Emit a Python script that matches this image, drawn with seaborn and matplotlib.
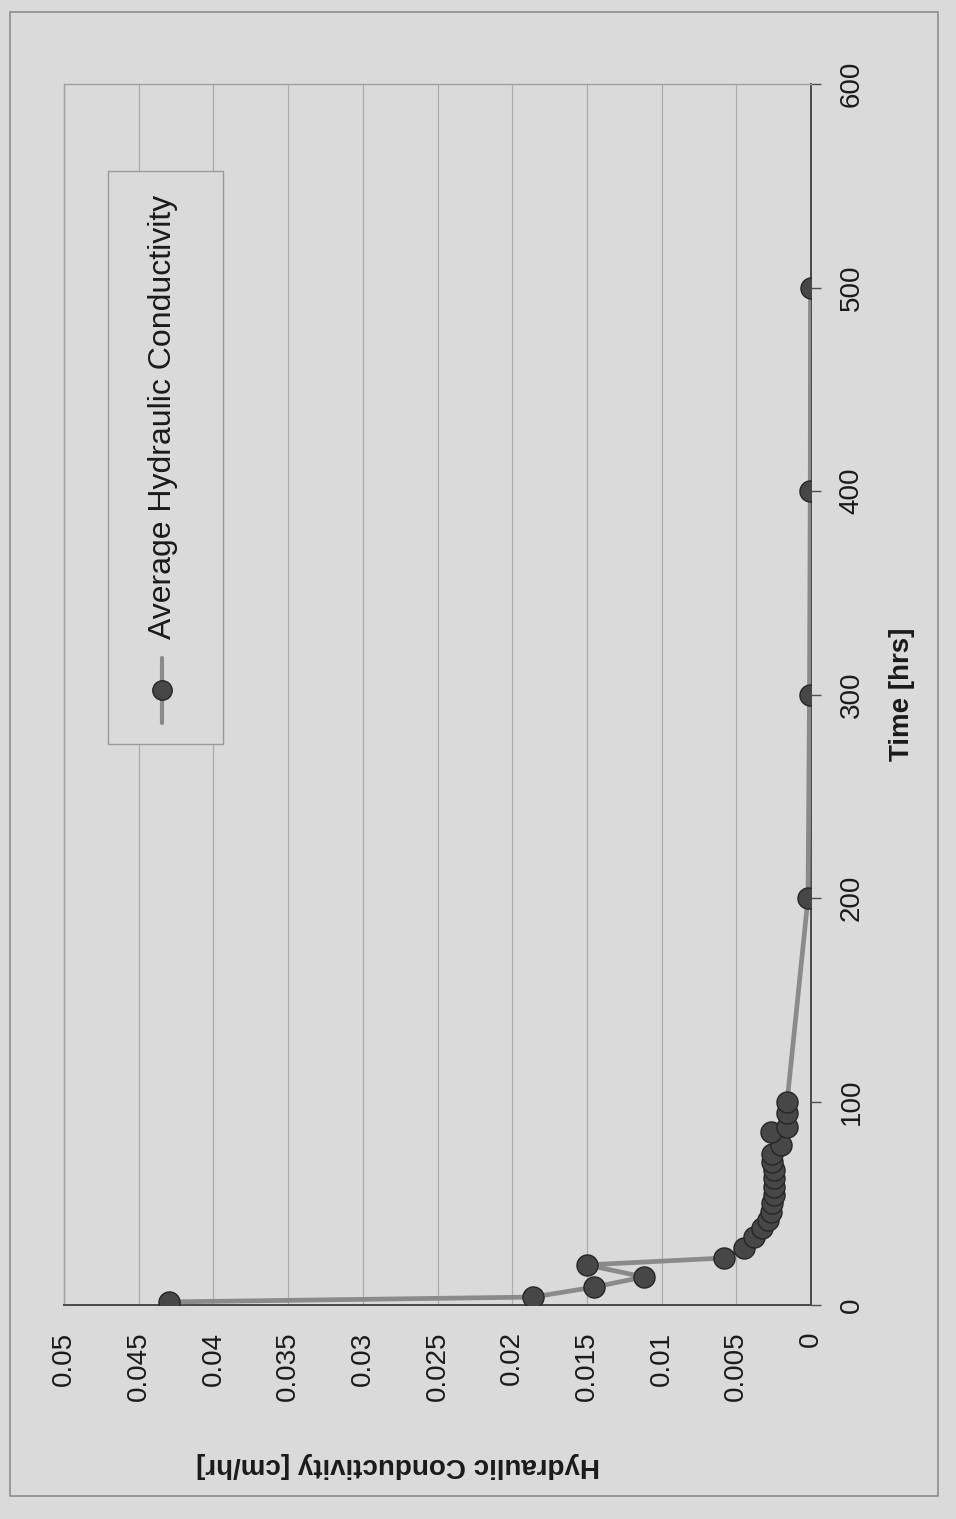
import numpy as np
import pandas as pd
import matplotlib
matplotlib.use("Agg")
import matplotlib.pyplot as plt
import seaborn as sns
from matplotlib.patches import Rectangle
from matplotlib.lines import Line2D

# ---- data (time in hours, conductivity in cm/hr) ----
time_hrs = [1.5, 3.9, 8.8, 13.8, 19.7, 23.1, 28.0, 33.4, 37.8, 41.8, 45.7, 50.1,
            54.0, 58.0, 62.4, 66.3, 70.3, 74.0, 78.6, 85.0, 87.5, 94.3, 99.8,
            200, 300, 400, 500]
conductivity = [0.0430, 0.0186, 0.0145, 0.0112, 0.0150, 0.0058, 0.0045, 0.0038,
                0.0033, 0.0029, 0.0027, 0.0026, 0.0025, 0.0025, 0.0025, 0.0025,
                0.0026, 0.0026, 0.0020, 0.0027, 0.0016, 0.0016, 0.0016,
                0.0002, 0.0001, 0.00005, 0.00003]
k_ticks = [0, 0.005, 0.01, 0.015, 0.02, 0.025, 0.03, 0.035, 0.04, 0.045, 0.05]
k_tick_labels = ["0", "0.005", "0.01", "0.015", "0.02", "0.025", "0.03",
                 "0.035", "0.04", "0.045", "0.05"]
t_ticks = [0, 100, 200, 300, 400, 500, 600]
t_tick_labels = ["0", "100", "200", "300", "400", "500", "600"]
series_name = "Average Hydraulic Conductivity"
x_title = "Time [hrs]"
y_title = "Hydraulic Conductivity [cm/hr]"

df = pd.DataFrame({"t": time_hrs, "K": conductivity})

sns.set_style("white")
plt.rcParams["font.family"] = ["Liberation Sans", "DejaVu Sans"]

BG = "#dadada"
W, H = 956, 1519
fig = plt.figure(figsize=(W / 100, H / 100), dpi=100, facecolor=BG)

def fx(px):
    return px / W

def fy(py):
    return 1 - py / H

left, right, top, bottom = 64, 811, 84, 1305
ax = fig.add_axes([fx(left), fy(bottom), fx(right - left), (bottom - top) / H])
ax.set_facecolor(BG)

# outer chart border
fig.patches.append(Rectangle((fx(10), fy(1496)), fx(928), (1496 - 12) / H,
                             transform=fig.transFigure, fill=False,
                             edgecolor="#8c8c8c", lw=1.2))

ax.set_xlim(0.05, 0)
ax.set_ylim(0, 600)
ax.set_xticks(k_ticks)
ax.set_xticklabels(k_tick_labels, rotation=90, fontsize=20, color="#1a1a1a")
ax.set_yticks(t_ticks)
ax.set_yticklabels(t_tick_labels, rotation=90, fontsize=20, color="#1a1a1a",
                   va="center")
ax.yaxis.tick_right()
ax.grid(axis="x", color="#ababab", lw=0.9)
ax.grid(axis="y", visible=False)
ax.tick_params(axis="x", length=0, pad=19)
ax.tick_params(axis="y", length=7, width=1, color="#505050", pad=13)

for s in ["top", "left"]:
    ax.spines[s].set_color("#a0a0a0")
    ax.spines[s].set_linewidth(1.0)
for s in ["right", "bottom"]:
    ax.spines[s].set_color("#4a4a4a")
    ax.spines[s].set_linewidth(1.4)

# series
sns.lineplot(data=df, x="K", y="t", sort=False, estimator=None, ax=ax,
             color="#8a8a8a", lw=3.4, legend=False, zorder=3)
sns.scatterplot(data=df, x="K", y="t", ax=ax, s=230, color="#474747",
                edgecolor="#262626", linewidth=1.0, legend=False, zorder=4)
ax.set_xlabel("")
ax.set_ylabel("")

# axis titles
fig.text(fx(902), fy(694), x_title, rotation=90, ha="center", va="center",
         fontsize=20, fontweight="bold", color="#1a1a1a")
fig.text(fx(600), fy(1465), y_title, rotation=180, ha="right",
         va="center", fontsize=20, fontweight="bold", color="#1a1a1a")

# legend box
fig.patches.append(Rectangle((fx(108), fy(744)), fx(223 - 108), (744 - 171) / H,
                             transform=fig.transFigure, facecolor=BG,
                             edgecolor="#9a9a9a", lw=1.0, zorder=5))
fig.lines.append(Line2D([fx(162), fx(162)], [fy(723), fy(658)],
                        transform=fig.transFigure, color="#8a8a8a", lw=3.0,
                        zorder=6))
fig.lines.append(Line2D([fx(162)], [fy(690)], transform=fig.transFigure,
                        marker="o", markersize=14, markerfacecolor="#474747",
                        markeredgecolor="#262626", zorder=7))
fig.text(fx(163), fy(639), series_name, rotation=90, ha="center", va="bottom",
         fontsize=23, color="#1a1a1a", zorder=8)

fig.savefig("out.png", dpi=100, facecolor=BG)
